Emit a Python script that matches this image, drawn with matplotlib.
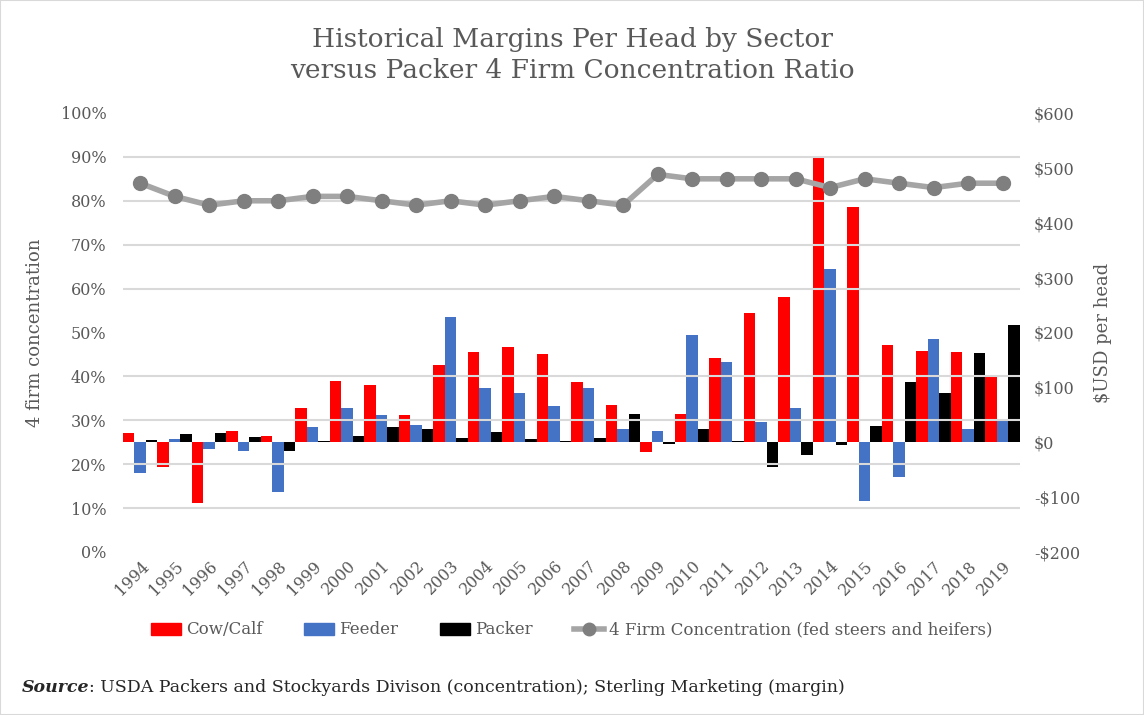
import matplotlib.pyplot as plt
import matplotlib.patches as mpatches
from matplotlib.lines import Line2D
import numpy as np

# data
years = [str(y) for y in range(1994, 2020)]
cow_calf = [16, -46, -110, 20, 11, 62, 111, 104, 49, 140, 164, 173, 160,
            109, 67, -18, 51, 153, 235, 264, 519, 428, 177, 166, 164, 118]
feeder = [-56, 5, -12, -16, -90, 27, 62, 49, 31, 228, 98, 89, 66,
          98, 24, 20, 195, 146, 36, 62, 315, -107, -64, 189, 25, 42]
packer = [4, 15, 16, 9, -16, 2, 11, 27, 25, 7, 18, 5, 2,
          7, 51, -4, 25, 2, -46, -24, -5, 29, 109, 89, 162, 213]
concentration = [84, 81, 79, 80, 80, 81, 81, 80, 79, 80, 79, 80, 81,
                 80, 79, 86, 85, 85, 85, 85, 83, 85, 84, 83, 84, 84]

plt.rcParams['font.family'] = ['DejaVu Serif']
grey_txt = '#595959'

fig = plt.figure(figsize=(11.44, 7.15), dpi=100)
fig.patches.append(mpatches.Rectangle((0, 0), 1, 1, transform=fig.transFigure,
                                      fill=False, edgecolor='#D9D9D9', lw=1.5))
ax = fig.add_axes([0.1075, 0.228, 0.784, 0.614])
ax2 = ax.twinx()
ax.set_zorder(2)
ax.patch.set_visible(False)
ax2.set_zorder(1)

x = np.arange(len(years))
w = 1 / 3
ax2.bar(x - w, cow_calf, w, color='#FF0000', label='Cow/Calf')
ax2.bar(x, feeder, w, color='#4472C4', label='Feeder')
ax2.bar(x + w, packer, w, color='#000000', label='Packer')
ax2.set_ylim(-200, 600)
ax2.set_yticks(np.arange(-200, 601, 100))
ax2.set_yticklabels([f'-${-v}' if v < 0 else f'${v}' for v in range(-200, 601, 100)])
# gridlines follow the left axis (every 10%)
ax2.set_yticks(np.arange(-200, 601, 80), minor=True)
ax2.grid(which='minor', axis='y', color='#D9D9D9', lw=1.5)
ax2.tick_params(which='both', length=0, colors=grey_txt, labelsize=11.5, pad=10)
ax2.set_ylabel('$USD per head', color=grey_txt, fontsize=13, labelpad=10)

ax.plot(x, concentration, color='#A5A5A5', lw=4, marker='o', ms=10,
        markerfacecolor='#7F7F7F', markeredgecolor='#7F7F7F')
ax.set_ylim(0, 100)
ax.set_yticks(np.arange(0, 101, 10))
ax.set_yticklabels([f'{v}%' for v in range(0, 101, 10)])
ax.set_xlim(-0.5, len(years) - 0.5)
ax.set_xticks(x)
ax.set_xticklabels(years, rotation=45, ha='right', rotation_mode='anchor')
ax.tick_params(length=0, colors=grey_txt, labelsize=11.5)
ax.tick_params(axis='y', pad=12)
ax.tick_params(axis='x', pad=4)
ax.set_ylabel('4 firm concentration', color=grey_txt, fontsize=13, labelpad=12)

for a in (ax, ax2):
    for s in a.spines.values():
        s.set_visible(False)

fig.text(0.5, 1 - 55 / 715, 'Historical Margins Per Head by Sector\nversus Packer 4 Firm Concentration Ratio',
         ha='center', va='center', fontsize=19, color=grey_txt, linespacing=1.25)

handles = [mpatches.Patch(color='#FF0000'), mpatches.Patch(color='#4472C4'),
           mpatches.Patch(color='#000000'),
           Line2D([], [], color='#A5A5A5', lw=4, marker='o', ms=9,
                  markerfacecolor='#7F7F7F', markeredgecolor='#7F7F7F')]
labels = ['Cow/Calf', 'Feeder', 'Packer', '4 Firm Concentration (fed steers and heifers)']
fig.legend(handles, labels, loc='center', bbox_to_anchor=(0.5, 1 - 630 / 715), ncol=4,
           frameon=False, fontsize=12, handlelength=1.8, handletextpad=0.3,
           columnspacing=2.5, labelcolor=grey_txt)

t1 = fig.text(0.019, 1 - 688 / 715, 'Source', fontsize=12.5, fontweight='bold',
              fontstyle='italic', va='center', color='#262626')
fig.canvas.draw()
bb = t1.get_window_extent().transformed(fig.transFigure.inverted())
fig.text(bb.x1, 1 - 688 / 715,
         ': USDA Packers and Stockyards Divison (concentration); Sterling Marketing (margin)',
         fontsize=12.5, va='center', color='#262626')

fig.savefig('out.png', dpi=100)
